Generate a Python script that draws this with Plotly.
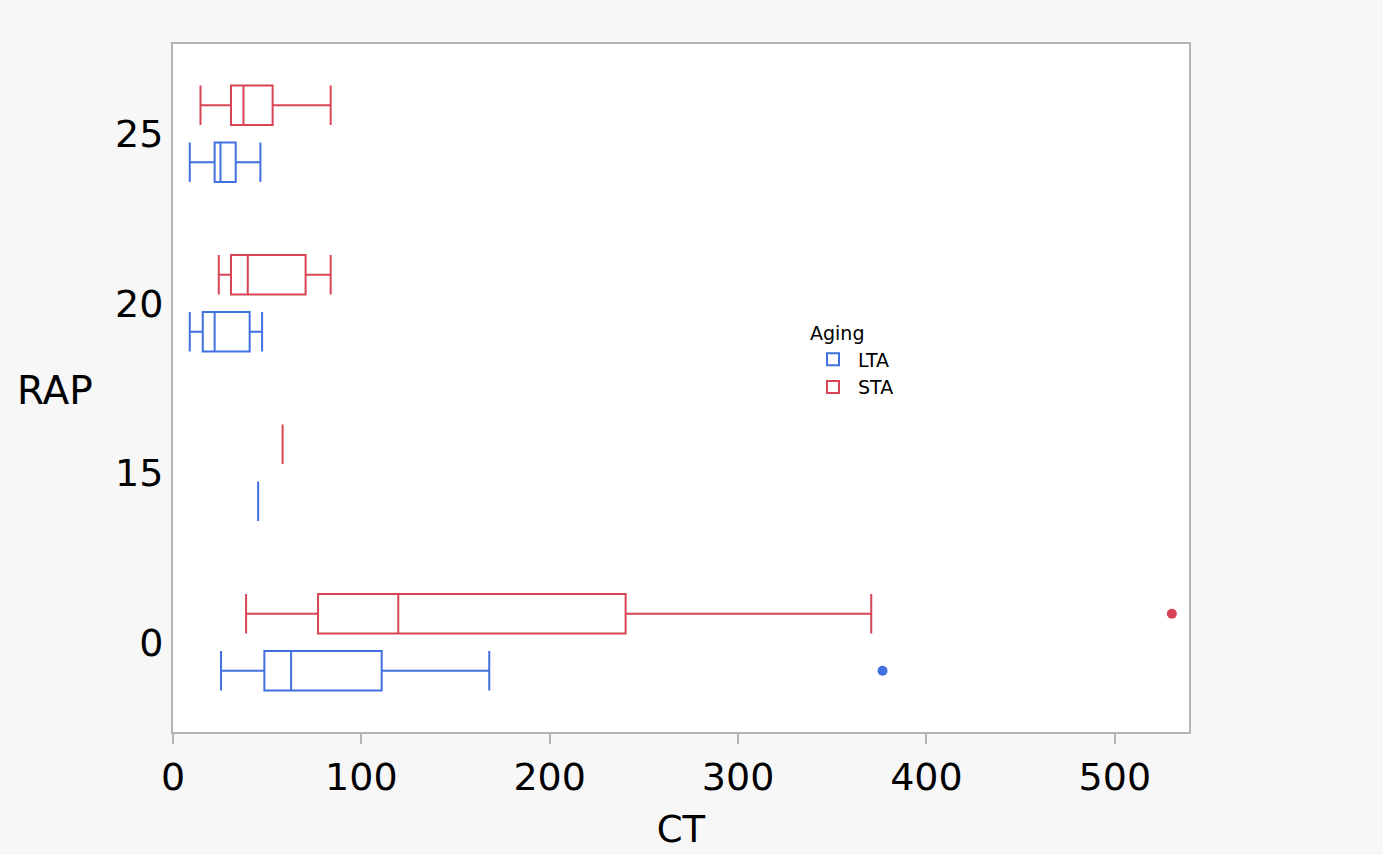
import plotly.graph_objects as go

rap = ["0", "15", "20", "25"]

# LTA stats per RAP
lta_low = [25.5, 45.2, 8.9, 8.9]
lta_q1 = [48.5, 45.2, 15.8, 22.1]
lta_med = [62.7, 45.2, 22.1, 25.2]
lta_q3 = [110.8, 45.2, 40.7, 33.3]
lta_high = [167.9, 45.2, 47.3, 46.4]
lta_out = [[376.7], [], [], []]

# STA stats per RAP
sta_low = [38.8, 58.2, 24.3, 14.6]
sta_q1 = [77.0, 58.2, 30.8, 30.8]
sta_med = [119.6, 58.2, 39.7, 37.4]
sta_q3 = [240.3, 58.2, 70.4, 52.9]
sta_high = [370.7, 58.2, 83.7, 83.7]
sta_out = [[530.3], [], [], []]

BLUE = "#4171e1"
RED = "#d84455"
FONT = "DejaVu Sans, Open Sans, sans-serif"

fig = go.Figure()
fig.add_trace(go.Box(
    name="LTA", y=rap, x=lta_out, orientation="h",
    q1=lta_q1, median=lta_med, q3=lta_q3,
    lowerfence=lta_low, upperfence=lta_high,
    boxpoints="outliers", whiskerwidth=1,
    line=dict(color=BLUE, width=2), fillcolor="rgba(0,0,0,0)",
    marker=dict(color=BLUE, size=10),
))
fig.add_trace(go.Box(
    name="STA", y=rap, x=sta_out, orientation="h",
    q1=sta_q1, median=sta_med, q3=sta_q3,
    lowerfence=sta_low, upperfence=sta_high,
    boxpoints="outliers", whiskerwidth=1,
    line=dict(color=RED, width=2), fillcolor="rgba(0,0,0,0)",
    marker=dict(color=RED, size=10),
))

fig.update_layout(
    width=1383, height=855,
    paper_bgcolor="#f7f7f7", plot_bgcolor="white",
    margin=dict(l=173, r=194, t=44, b=121),
    boxmode="group", boxgap=0.327, boxgroupgap=0.31,
    font=dict(family=FONT, color="black"),
    xaxis=dict(
        range=[0, 539.4], tickvals=[0, 100, 200, 300, 400, 500],
        showgrid=False, zeroline=False,
        showline=True, linecolor="#b4b4b4", linewidth=2, mirror=True,
        ticks="outside", ticklen=10, tickcolor="#b4b4b4", tickwidth=1.5,
        tickfont=dict(size=38),
        title=dict(text="CT", font=dict(size=37), standoff=19),
    ),
    yaxis=dict(
        type="category", categoryorder="array", categoryarray=rap,
        showgrid=False, zeroline=False,
        showline=True, linecolor="#b4b4b4", linewidth=2, mirror=True,
        ticks="", tickfont=dict(size=38), ticklabelstandoff=0,
    ),
    legend=dict(
        title=dict(text="Aging", font=dict(size=19)),
        font=dict(size=19), x=0.625, y=0.605, xanchor="left", yanchor="top",
        bgcolor="rgba(0,0,0,0)", tracegroupgap=0, itemwidth=40,
    ),
    annotations=[dict(
        text="RAP", xref="paper", yref="paper", x=-0.1555, y=0.497,
        xanchor="left", yanchor="middle", showarrow=False,
        font=dict(size=39),
    )],
)

fig.write_html("out.html")
